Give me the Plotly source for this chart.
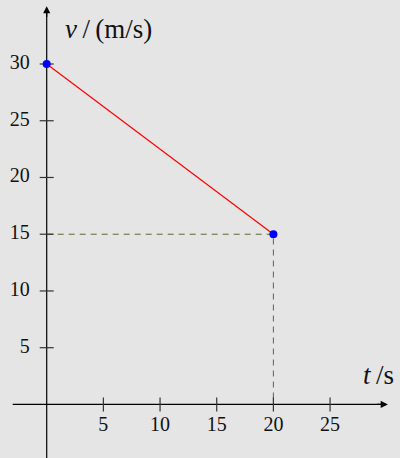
import plotly.graph_objects as go

# Data
t_points = [0, 20]
v_points = [30, 15]
x_ticks = [5, 10, 15, 20, 25]
y_ticks = [5, 10, 15, 20, 25, 30]
x_tick_labels = [str(v) for v in x_ticks]
y_tick_labels = [str(v) for v in y_ticks]

BG = "#e5e5e5"
FONT = "Liberation Serif"
DASH_COLOR = "#556b2f"

fig = go.Figure()

# dashed guide lines
fig.add_trace(go.Scatter(x=[0, t_points[1], t_points[1]], y=[v_points[1], v_points[1], 0],
                         mode="lines", line=dict(color=DASH_COLOR, width=1, dash="6px,5px"),
                         hoverinfo="skip", showlegend=False))

# axis lines
fig.add_trace(go.Scatter(x=[-3, 29.6], y=[0, 0], mode="lines",
                         line=dict(color="black", width=1.2), hoverinfo="skip", showlegend=False))
fig.add_trace(go.Scatter(x=[0, 0], y=[-5, 34.6], mode="lines",
                         line=dict(color="black", width=1.2), hoverinfo="skip", showlegend=False))

# ticks
fig.add_trace(go.Scatter(x=x_ticks, y=[0]*len(x_ticks), mode="markers",
                         marker=dict(symbol="line-ns-open", size=10, color="#333",
                                     line=dict(color="#333", width=1.2)),
                         hoverinfo="skip", showlegend=False))
fig.add_trace(go.Scatter(x=[0]*len(y_ticks), y=y_ticks, mode="markers",
                         marker=dict(symbol="line-ew-open", size=10, color="#333",
                                     line=dict(color="#333", width=1.2)),
                         hoverinfo="skip", showlegend=False))

# tick labels
fig.add_trace(go.Scatter(x=x_ticks, y=[-1.05]*len(x_ticks), mode="text",
                         text=x_tick_labels, textposition="bottom center",
                         textfont=dict(family=FONT, size=20, color="#111"),
                         hoverinfo="skip", showlegend=False))
fig.add_trace(go.Scatter(x=[-1.5]*len(y_ticks), y=y_ticks, mode="text",
                         text=y_tick_labels, textposition="middle left",
                         textfont=dict(family=FONT, size=20, color="#111"),
                         hoverinfo="skip", showlegend=False))

# main line
fig.add_trace(go.Scatter(x=t_points, y=v_points, mode="lines",
                         line=dict(color="red", width=1.2), hoverinfo="skip", showlegend=False))
fig.add_trace(go.Scatter(x=t_points, y=v_points, mode="markers",
                         marker=dict(color="blue", size=8), hoverinfo="skip", showlegend=False))

# arrows
fig.add_annotation(x=30.1, y=0, ax=29, ay=0, xref="x", yref="y", axref="x", ayref="y",
                   showarrow=True, arrowhead=2, arrowsize=1.2, arrowwidth=1.2, arrowcolor="black", text="")
fig.add_annotation(x=0, y=35.1, ax=0, ay=34, xref="x", yref="y", axref="x", ayref="y",
                   showarrow=True, arrowhead=2, arrowsize=1.2, arrowwidth=1.2, arrowcolor="black", text="")

# axis labels
fig.add_annotation(x=1.45, y=33.1, xref="x", yref="y", text="<i>v</i>\u2009/\u2009(m/s)", showarrow=False,
                   xanchor="left", yanchor="middle", font=dict(family=FONT, size=27, color="#111"))
fig.add_annotation(x=30.85, y=2.6, xref="x", yref="y", text="<i>t</i>\u2009/s", showarrow=False,
                   xanchor="right", yanchor="middle", font=dict(family=FONT, size=27, color="#111"))

fig.update_layout(
    width=400, height=458,
    margin=dict(l=0, r=0, t=0, b=0),
    paper_bgcolor=BG, plot_bgcolor=BG,
    xaxis=dict(range=[-4.12, 31.17], visible=False, fixedrange=True),
    yaxis=dict(range=[-4.72, 35.64], visible=False, fixedrange=True),
    showlegend=False,
)

fig.write_html("out.html", config={"displayModeBar": False},
               post_script="document.body.style.margin='0';document.body.style.background='%s';" % BG)
